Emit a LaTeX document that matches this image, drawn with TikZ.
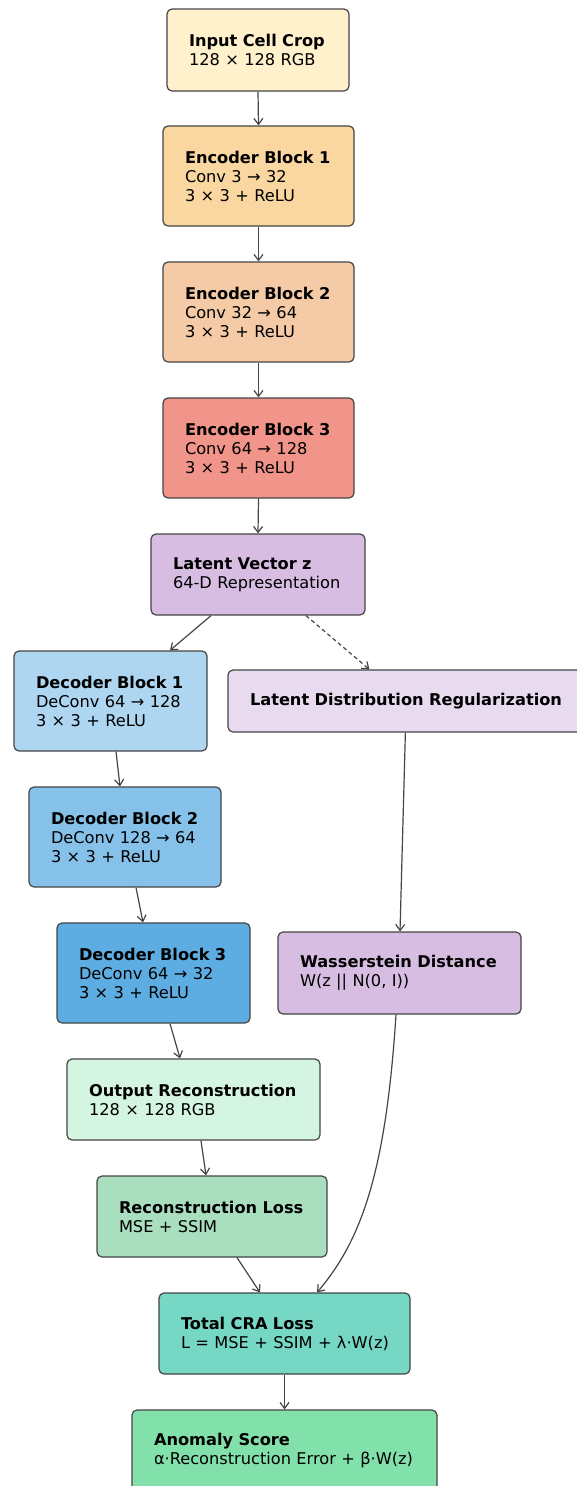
\documentclass[tikz,border=0pt]{standalone}
\usepackage{fontspec}
\setmainfont{DejaVu Sans}
\usetikzlibrary{arrows.meta,calc}
\definecolor{edgegray}{HTML}{454545}
\definecolor{cInput}{HTML}{FEF1CC}
\definecolor{cEncA}{HTML}{FAD7A0}
\definecolor{cEncB}{HTML}{F5CBA7}
\definecolor{cEncC}{HTML}{F1948A}
\definecolor{cLatent}{HTML}{D7BDE2}
\definecolor{cDecA}{HTML}{AED6F1}
\definecolor{cDecB}{HTML}{85C1E9}
\definecolor{cDecC}{HTML}{5DADE2}
\definecolor{cLDR}{HTML}{E8DAEF}
\definecolor{cWass}{HTML}{D7BDE2}
\definecolor{cOut}{HTML}{D5F5E3}
\definecolor{cRec}{HTML}{A9DFBF}
\definecolor{cTotal}{HTML}{76D7C4}
\definecolor{cAnom}{HTML}{82E0AA}
\begin{document}
\begin{tikzpicture}[x=1pt,y=-1pt,
  box/.style={draw=edgegray, line width=1.2pt, rounded corners=5pt,
    inner xsep=22pt, inner ysep=0pt, align=left,
    font=\fontsize{16.2}{19}\selectfont},
  conn/.style={draw=edgegray, line width=1.2pt,
    -{Straight Barb[length=6pt,width=9pt]}},
  dconn/.style={conn, dash pattern=on 4pt off 3pt}]
\useasboundingbox (0,0) rectangle (577,1486);
\clip (0,0) rectangle (577,1486);

\node[box, fill=cInput, text width=138pt, minimum height=82pt] (in) at (258,50)
  {\textbf{Input Cell Crop}\\128 × 128 RGB};
\node[box, fill=cEncA, text width=147pt, minimum height=100pt] (e1) at (258.5,176)
  {\textbf{Encoder Block 1}\\Conv 3 → 32\\3 × 3 + ReLU};
\node[box, fill=cEncB, text width=147pt, minimum height=100pt] (e2) at (258.5,312)
  {\textbf{Encoder Block 2}\\Conv 32 → 64\\3 × 3 + ReLU};
\node[box, fill=cEncC, text width=147pt, minimum height=100pt] (e3) at (258.5,448)
  {\textbf{Encoder Block 3}\\Conv 64 → 128\\3 × 3 + ReLU};
\node[box, fill=cLatent, text width=170pt, minimum height=81pt] (lat) at (258,574.5)
  {\textbf{Latent Vector z}\\64-D Representation};
\node[box, fill=cDecA, text width=149pt, minimum height=100pt] (d1) at (110.5,701)
  {\textbf{Decoder Block 1}\\DeConv 64 → 128\\3 × 3 + ReLU};
\node[box, fill=cLDR, text width=348pt, minimum height=62pt] (ldr) at (424,701)
  {\textbf{Latent Distribution Regularization}};
\node[box, fill=cDecB, text width=148pt, minimum height=100pt] (d2) at (125,837)
  {\textbf{Decoder Block 2}\\DeConv 128 → 64\\3 × 3 + ReLU};
\node[box, fill=cDecC, text width=149pt, minimum height=100pt] (d3) at (153.5,973)
  {\textbf{Decoder Block 3}\\DeConv 64 → 32\\3 × 3 + ReLU};
\node[box, fill=cWass, text width=199pt, minimum height=82pt] (ws) at (399.5,973)
  {\textbf{Wasserstein Distance}\\W(z || N(0, I))};
\node[box, fill=cOut, text width=209pt, minimum height=81pt] (out) at (193.5,1099.5)
  {\textbf{Output Reconstruction}\\128 × 128 RGB};
\node[box, fill=cRec, text width=186pt, minimum height=81pt] (rec) at (212,1216.5)
  {\textbf{Reconstruction Loss}\\MSE + SSIM};
\node[box, fill=cTotal, text width=207pt, minimum height=81pt] (tot) at (284.5,1333.5)
  {\textbf{Total CRA Loss}\\\mbox{L = MSE + SSIM + λ·W(z)}};
\node[box, fill=cAnom, text width=261pt, minimum height=81pt] (an) at (284.5,1450.5)
  {\textbf{Anomaly Score}\\\mbox{α·Reconstruction Error + β·W(z)}};

\draw[conn] (in.south) -- (e1.north);
\draw[conn] (e1.south) -- (e2.north);
\draw[conn] (e2.south) -- (e3.north);
\draw[conn] (e3.south) -- (lat.north);
\draw[conn] ([xshift=-47pt]lat.south) -- ([xshift=59.5pt]d1.north);
\draw[dconn] ([xshift=48pt]lat.south) -- ([xshift=142pt]ldr.north west);
\draw[conn] ([xshift=5.5pt]d1.south) -- ([xshift=-5pt]d2.north);
\draw[conn] ([xshift=11pt]d2.south) -- ([xshift=-10.5pt]d3.north);
\draw[conn] ([xshift=178pt]ldr.south west) -- ([xshift=0.5pt]ws.north);
\draw[conn] ([xshift=16.5pt]d3.south) -- ([xshift=-13.5pt]out.north);
\draw[conn] ([xshift=-3.5pt]ws.south) .. controls (386,1170) and (362,1240) .. ([xshift=32.5pt]tot.north);
\draw[conn] ([xshift=7.5pt]out.south) -- ([xshift=-6pt]rec.north);
\draw[conn] ([xshift=25pt]rec.south) -- ([xshift=-24.5pt]tot.north);
\draw[conn] (tot.south) -- (an.north);
\end{tikzpicture}
\end{document}
